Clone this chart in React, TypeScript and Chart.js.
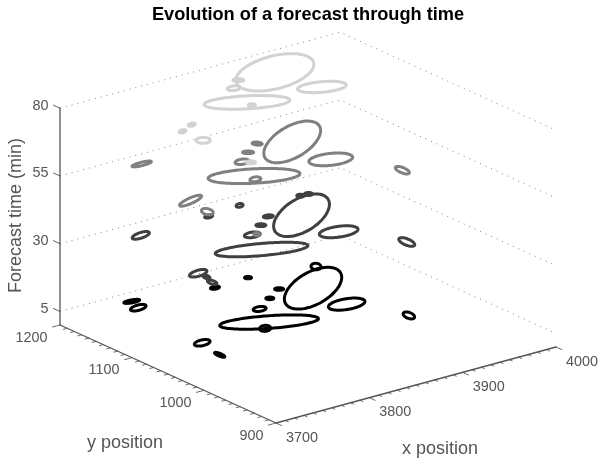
import React, { useEffect, useRef } from "react";
import { Chart, registerables } from "chart.js";

Chart.register(...registerables);

const chartTitle = "Evolution of a forecast through time";
const xAxisTitle = "x position";
const yAxisTitle = "y position";
const zAxisTitle = "Forecast time (min)";

const xTicks = [3700, 3800, 3900, 4000];
const yTicks = [900, 1000, 1100, 1200];
const zTicks = [5, 30, 55, 80];

// Forecast at 5 min
const x5 = [3904, 3824.5, 3903, 3928, 3938, 3876, 3880, 3860, 3837.5, 3812.5, 3839, 3763, 3758, 3749, 3743];
const y5 = [1113, 1071, 1065, 1011, 1153, 1167, 1129, 1116, 1101, 1061, 1165, 1182, 1166.5, 1066, 1034];
const major5 = [31.5, 49.5, 18.5, 6, 5, 3.5, 4.5, 4, 6.5, 5.5, 4.5, 8, 8, 8, 5.5];
const minor5 = [16.3, 6.3, 5.4, 3, 3.2, 1.2, 1.3, 1.3, 2.4, 3, 1.5, 1.5, 2.7, 2.9, 1.4];
const tilt5 = [29, 4, 9, -20, -5, 0, 0, 0, 8, 5, 8, 10, 15, 12, -22];

// Forecast at 30 min
const x30 = [3904, 3826.5, 3904.5, 3935, 3932, 3940, 3880, 3862, 3842, 3877, 3766.5, 3749, 3749, 3745, 3840];
const y30 = [1129, 1084, 1078, 1023, 1167, 1166, 1144, 1131, 1117, 1180, 1174, 1071.5, 1060, 1047, 1175];
const major30 = [31, 46.5, 19.5, 8.5, 3.5, 4, 5, 5, 8, 3.5, 9, 9, 3.5, 5, 4];
const minor30 = [16.5, 6.1, 5.4, 3.2, 1.5, 1.5, 1.5, 1.4, 2.7, 1.8, 2.8, 3, 1.5, 1.8, 1.5];
const tilt30 = [31, 5, 8, -22, 0, 0, 5, 0, 8, 10, 18, 16, -15, -18, 12];

// Forecast at 55 min
const x55 = [3906, 3830, 3906, 3938, 3880, 3861, 3843, 3826, 3772.5, 3751, 3746, 3746];
const y55 = [1144.5, 1099, 1091, 1033, 1159.5, 1147.5, 1132.6, 1092, 1180.5, 1084.7, 1055, 986.5];
const major55 = [31.5, 46, 22, 7.5, 5, 5.5, 7, 5.5, 10, 12, 6, 3];
const minor55 = [15.8, 7.2, 6, 2.7, 1.5, 1.3, 2.6, 2.4, 1.7, 2.8, 3, 1.5];
const tilt55 = [30, 3, 6, -22, -5, 0, 8, 8, 14, 24, -12, 0];

// Forecast at 80 min
const x80 = [3897, 3834, 3907, 3861, 3846, 3833, 3764, 3748, 3748.5, 3748];
const y80 = [1157, 1114, 1104.5, 1161, 1148, 1106, 1100, 1092, 1064, 997];
const major80 = [40, 43, 24.5, 5.5, 6.5, 3.5, 3.5, 3.5, 7, 4.5];
const minor80 = [16.5, 6.5, 5.3, 1.5, 2.3, 1.5, 1.5, 1.5, 3, 1.5];
const tilt80 = [14, 3, 5, 0, 6, 0, 12, 12, 0, 0];

const forecasts = [
  { z: 5, color: "#000000", xs: x5, ys: y5, majors: major5, minors: minor5, tilts: tilt5 },
  { z: 30, color: "#404040", xs: x30, ys: y30, majors: major30, minors: minor30, tilts: tilt30 },
  { z: 55, color: "#808080", xs: x55, ys: y55, majors: major55, minors: minor55, tilts: tilt55 },
  { z: 80, color: "#d2d2d2", xs: x80, ys: y80, majors: major80, minors: minor80, tilts: tilt80 },
];

const xMin = 3700, xMax = 4000, yMin = 900, yMax = 1200;
const axisColor = "#555555";
const textColor = "#555555";
const font = '"Liberation Sans", Arial, sans-serif';

// View of the 3D box onto the flat chart plane
const project = (x: number, y: number, z: number) => ({
  x: 276 + ((x - xMin) * 280) / 300 - ((y - yMin) * 216) / 300,
  y: 423 - ((x - xMin) * 76) / 300 - ((y - yMin) * 98) / 300 - z * 2.71,
});

const ring = (px: number, py: number, z: number, a: number, b: number, tiltDeg: number) => {
  const c = project(px, py, z);
  const t = (tiltDeg * Math.PI) / 180;
  const n = 72;
  const pts = [];
  for (let i = 0; i <= n; i++) {
    const u = (i / n) * 2 * Math.PI;
    const ca = a * Math.cos(u);
    const sb = b * Math.sin(u);
    pts.push({ x: c.x + ca * Math.cos(t) + sb * Math.sin(t), y: c.y - ca * Math.sin(t) + sb * Math.cos(t) });
  }
  return pts;
};

const line = (data: { x: number; y: number }[], color: string, width: number, dash: number[] = []) => ({
  type: "scatter" as const,
  data,
  showLine: true,
  borderColor: color,
  borderWidth: width,
  borderDash: dash,
  borderJoinStyle: "round" as const,
  borderCapStyle: "round" as const,
  pointRadius: 0,
  tension: 0.2,
  fill: false,
  clip: false,
});

const buildDatasets = () => {
  const sets: any[] = [];
  // Dotted time planes
  for (const z of zTicks) {
    sets.push({
      ...line([project(xMin, yMax, z), project(xMax, yMax, z), project(xMax, yMin, z)], "#808080", 1, [1, 5]),
      tension: 0,
      borderCapStyle: "butt",
    });
  }
  // Axes
  sets.push(line([project(xMin, yMax, 0), project(xMin, yMax, zTicks[3])], axisColor, 1.3));
  sets.push(line([project(xMin, yMax, 0), project(xMin, yMin, 0)], axisColor, 1.3));
  sets.push(line([project(xMin, yMin, 0), project(xMax, yMin, 0)], axisColor, 1.3));
  for (const z of zTicks) {
    sets.push(line([project(xMin, yMax, z), project(xMin, yMax + 9, z)], axisColor, 1));
  }
  for (let x = xMin; x <= xMax; x += 10) {
    const len = (x - xMin) % 100 === 0 ? 8 : 4;
    sets.push(line([project(x, yMin, 0), project(x, yMin - len, 0)], axisColor, 0.9));
  }
  for (let y = yMin; y <= yMax; y += 10) {
    const len = (y - yMin) % 100 === 0 ? 8 : 4;
    sets.push(line([project(xMin, y, 0), project(xMin - len, y, 0)], axisColor, 0.9));
  }
  // Forecast ellipses
  for (const f of forecasts) {
    f.xs.forEach((px, i) => {
      sets.push(line(ring(px, f.ys[i], f.z, f.majors[i], f.minors[i], f.tilts[i]), f.color, 3));
    });
  }
  // Chart.js paints the first dataset last
  return sets.reverse();
};

const textPlugin = {
  id: "boxText",
  afterDraw(chart: any) {
    const { ctx, scales } = chart;
    const put = (p: { x: number; y: number }, dx: number, dy: number, text: string, f: string, align: CanvasTextAlign, color = textColor, rot = 0) => {
      ctx.save();
      ctx.translate(scales.x.getPixelForValue(p.x) + dx, scales.y.getPixelForValue(p.y) + dy);
      ctx.rotate(rot);
      ctx.font = f;
      ctx.fillStyle = color;
      ctx.textAlign = align;
      ctx.textBaseline = "middle";
      ctx.fillText(text, 0, 0);
      ctx.restore();
    };
    const tick = `14.4px ${font}`;
    const label = `18px ${font}`;
    zTicks.forEach((z) => put(project(xMin, yMax, z), -11.5, -2.5, String(z), tick, "right"));
    yTicks.forEach((y) => put(project(xMin, y, 0), -12.5, 12.8, String(y), tick, "right"));
    xTicks.forEach((x) => put(project(x, yMin, 0), 26, 14.8, String(x), tick, "center"));
    put({ x: 440, y: 449.5 }, 0, 0, xAxisTitle, label, "center");
    put({ x: 125, y: 443.5 }, 0, 0, yAxisTitle, label, "center");
    put({ x: 16, y: 215.5 }, 0, 0, zAxisTitle, label, "center", textColor, -Math.PI / 2);
    put({ x: 308, y: 15 }, 0, 0, chartTitle, `bold 18.2px ${font}`, "center", "#000000");
  },
};

export default function App() {
  const ref = useRef<HTMLCanvasElement>(null);
  useEffect(() => {
    const chart = new Chart(ref.current as HTMLCanvasElement, {
      type: "scatter",
      data: { datasets: buildDatasets() },
      options: {
        animation: false,
        responsive: false,
        layout: { padding: 0 },
        plugins: { legend: { display: false }, tooltip: { enabled: false }, title: { display: false } },
        scales: {
          x: { type: "linear", min: 0, max: 600, display: false },
          y: { type: "linear", min: 0, max: 461, reverse: true, display: false },
        },
      },
      plugins: [textPlugin],
    });
    return () => chart.destroy();
  }, []);
  return (
    <div style={{ position: "absolute", left: 0, top: 0, width: 600, height: 461, background: "#fff" }}>
      <canvas ref={ref} width={600} height={461} style={{ display: "block" }} />
    </div>
  );
}
